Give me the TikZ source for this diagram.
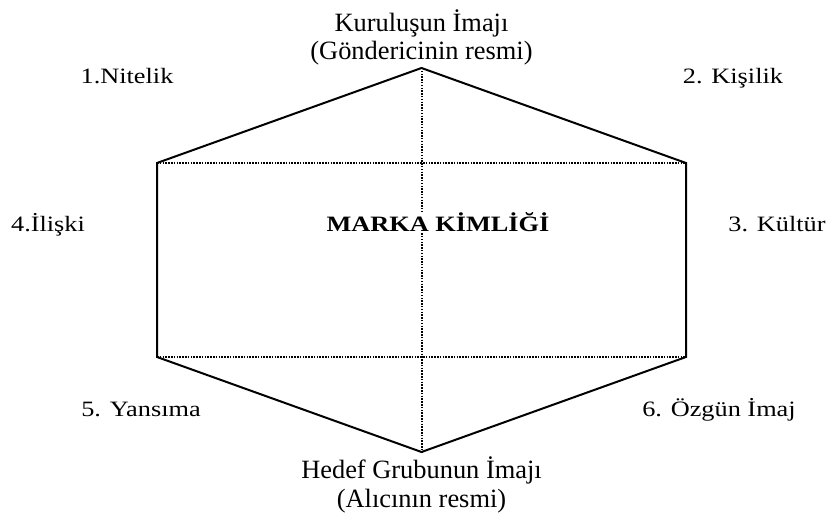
\documentclass[tikz,border=0pt]{standalone}
\usepackage{fontspec}
\setmainfont{Liberation Serif}
\newfontfamily\lblfont[FakeStretch=1.2]{Liberation Serif}
\begin{document}
\begin{tikzpicture}[x=1bp,y=-1bp,
  solidedge/.style={line width=2bp, line join=miter},
  dotedge/.style={line width=2bp, dash pattern=on 1.5bp off 1.3bp},
  caption/.style={font=\fontsize{26.5}{28.5}\selectfont, align=center, inner sep=0, anchor=base},
  lbl/.style={font=\lblfont\fontsize{22}{24}\selectfont, anchor=base, inner sep=0},
]
\useasboundingbox (0,0) rectangle (832,518);
\fill[white] (0,0) rectangle (832,518);
% hexagon vertices
\coordinate (T)  at (421.5,68);
\coordinate (UL) at (157,163);
\coordinate (UR) at (686,163);
\coordinate (LL) at (157,357);
\coordinate (LR) at (686,357);
\coordinate (B)  at (421.5,452);
% dotted inner lines
\draw[dotedge] (UL) -- (UR);
\draw[dotedge] (LL) -- (LR);
\draw[dotedge] (T) -- (B);
% solid outline
\draw[solidedge] (UL) -- (T) -- (UR) -- (LR) -- (B) -- (LL) -- cycle;
% captions (anchored at the baseline of the last line)
\node[caption] (top) at (421.5,60) {Kuruluşun İmajı\\(Göndericinin resmi)};
\node[caption] (bottom) at (421.5,507) {Hedef Grubunun İmajı\\(Alıcının resmi)};
% labels
\node[lbl] (l1) at (127,84) {1.Nitelik};
\node[lbl] (l2) at (733,84) {2. Kişilik};
\node[lbl] (l4) at (48,232) {4.İlişki};
\node[lbl] (l3) at (777,232) {3. Kültür};
\node[lbl] (l5) at (141,416) {5. Yansıma};
\node[lbl] (l6) at (719,416) {6. Özgün İmaj};
\node[lbl, font=\lblfont\bfseries\fontsize{22}{24}\selectfont, fill=white] (center) at (438,232) {MARKA KİMLİĞİ};
\end{tikzpicture}
\end{document}
